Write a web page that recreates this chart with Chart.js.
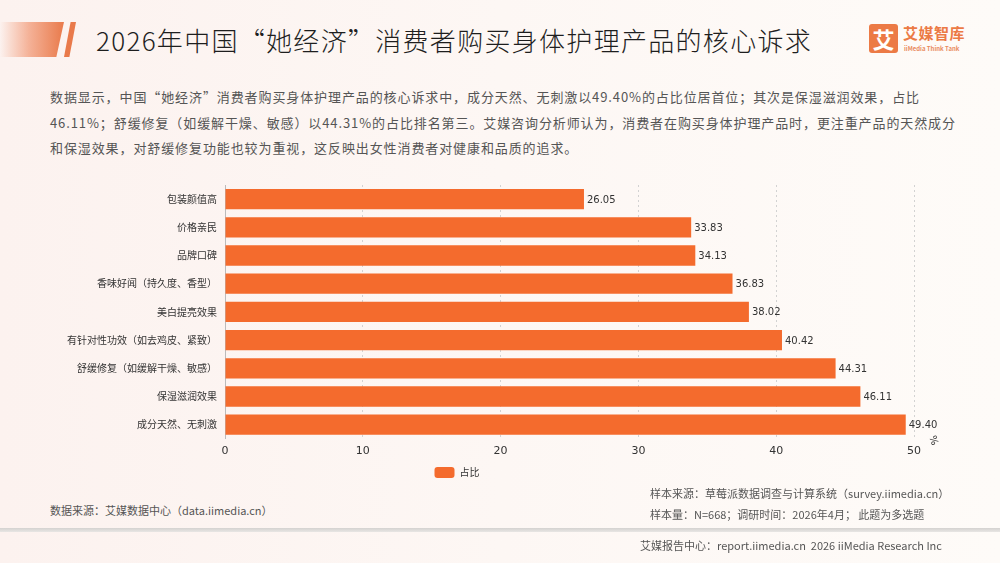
<!DOCTYPE html>
<html>
<head>
<meta charset="utf-8">
<script src="https://cdn.jsdelivr.net/npm/chart.js@4/dist/chart.umd.min.js"></script>
<style>
  html, body { margin: 0; padding: 0; }
  body {
    width: 1000px; height: 563px; overflow: hidden; position: relative;
    background: linear-gradient(90deg, #fcf2ef 0%, #fdf7f4 50%, #fefbf8 100%);
    font-family: "Noto Sans CJK SC", "Noto Sans", sans-serif;
  }
  .deco { position: absolute; left: 0; top: 22px; width: 64px; height: 35px;
    background: linear-gradient(90deg, rgba(238,125,80,0) 0%, rgba(238,125,80,0.55) 45%, #e97a4b 100%);
    clip-path: polygon(0 0, 100% 0, 88% 100%, 0 100%); }
  .deco2 { position: absolute; left: 64px; top: 22px; width: 12px; height: 35px; background: #e97a4b;
    clip-path: polygon(55% 0, 100% 0, 45% 100%, 0 100%); }
  .title { position: absolute; left: 96px; top: 21px; font-size: 26px; color: #1e1e1e; font-weight: 300; letter-spacing: 1.3px; white-space: nowrap; }
  .logo-box { position: absolute; left: 869px; top: 24px; width: 29px; height: 29px; background: #ec7a45; border-radius: 3px;
    color: #fff; font-size: 22px; font-weight: 700; line-height: 29px; text-align: center; }
  .logo-cn { position: absolute; left: 903px; top: 22px; font-size: 15px; font-weight: 700; color: #ec7a45; letter-spacing: 0.5px; }
  .logo-en { position: absolute; left: 904px; top: 44px; font-size: 6px; font-weight: 700; color: #e98a5e; white-space: nowrap; }
  .para { position: absolute; left: 50px; top: 84px; font-size: 13px; color: #555; line-height: 25.5px; letter-spacing: 0.9px; white-space: nowrap; }
  #wrap { position: absolute; left: 0; top: 171px; width: 1000px; height: 317px; }
  .src { position: absolute; font-size: 11px; color: #555; white-space: nowrap; }
  .bar { position: absolute; left: 0; top: 528px; width: 1000px; height: 4px;
    background: linear-gradient(180deg, #d4d2d0, #e8e6e4); }
</style>
</head>
<body>
<div class="deco"></div><div class="deco2"></div>
<div class="title">2026年中国“她经济”消费者购买身体护理产品的核心诉求</div>
<div class="logo-box">艾</div>
<div class="logo-cn">艾媒智库</div>
<div class="logo-en">iiMedia Think Tank</div>
<div class="para">数据显示，中国“她经济”消费者购买身体护理产品的核心诉求中，成分天然、无刺激以49.40%的占比位居首位；其次是保湿滋润效果，占比<br>46.11%；舒缓修复（如缓解干燥、敏感）以44.31%的占比排名第三。艾媒咨询分析师认为，消费者在购买身体护理产品时，更注重产品的天然成分<br>和保湿效果，对舒缓修复功能也较为重视，这反映出女性消费者对健康和品质的追求。</div>
<div id="wrap"><canvas id="chart" width="1000" height="317"></canvas></div>
<div class="src" style="left:50px; top:502px;">数据来源：艾媒数据中心（data.iimedia.cn）</div>
<div class="src" style="left:650px; top:485px;">样本来源：草莓派数据调查与计算系统（survey.iimedia.cn）</div>
<div class="src" style="left:650px; top:506px;">样本量：N=668；调研时间：2026年4月； 此题为多选题</div>
<div class="bar"></div>
<div class="src" style="left:640px; top:537px;">艾媒报告中心：report.iimedia.cn&nbsp;&nbsp;2026 iiMedia Research Inc</div>
<script>
const categories = ['包装颜值高', '价格亲民', '品牌口碑', '香味好闻（持久度、香型）', '美白提亮效果',
    '有针对性功效（如去鸡皮、紧致）', '舒缓修复（如缓解干燥、敏感）', '保湿滋润效果', '成分天然、无刺激'];
const shares = [26.05, 33.83, 34.13, 36.83, 38.02, 40.42, 44.31, 46.11, 49.40];
const xTicks = [0, 10, 20, 30, 40, 50];
const seriesName = '占比';
const barColor = '#f46b2d';

// value labels at the end of each bar + unit mark
const valueLabels = {
    id: 'valueLabels',
    afterDatasetsDraw(chart) {
        const ctx = chart.ctx;
        const meta = chart.getDatasetMeta(0);
        ctx.save();
        ctx.font = '10px "DejaVu Sans", sans-serif';
        ctx.fillStyle = '#333';
        ctx.textBaseline = 'middle';
        meta.data.forEach((bar, i) => {
            ctx.fillText(shares[i].toFixed(2), bar.x + 3, bar.y + 1);
        });
        const xs = chart.scales.x;
        ctx.translate(xs.right + 19, xs.top + 1);
        ctx.rotate(Math.PI / 2 - 0.3);
        ctx.fillText('%', -4, 0);
        ctx.restore();
    }
};

new Chart(document.getElementById('chart'), {
    type: 'bar',
    data: {
        labels: categories,
        datasets: [{
            label: seriesName,
            data: shares,
            backgroundColor: barColor,
            borderWidth: 0,
            categoryPercentage: 0.72,
            barPercentage: 1
        }]
    },
    options: {
        indexAxis: 'y',
        responsive: false,
        animation: false,
        layout: { padding: { top: 0, right: 86, left: 0, bottom: 0 } },
        scales: {
            x: {
                min: 0, max: 50,
                afterBuildTicks: s => { s.ticks = xTicks.map(v => ({ value: v })); },
                grid: { color: '#d2d2d2', lineWidth: 1, drawTicks: false },
                border: { display: false, dash: [2, 3] },
                ticks: { color: '#333', padding: 6, font: { size: 11, family: '"DejaVu Sans", sans-serif' } }
            },
            y: {
                grid: { display: false, drawTicks: false },
                border: { display: true, color: '#bbb' },
                ticks: { color: '#333', padding: 8, font: { size: 10, family: '"Noto Sans CJK SC", sans-serif' } },
                afterFit: s => { s.width = 225; }
            }
        },
        plugins: {
            legend: {
                position: 'bottom',
                labels: {
                    boxWidth: 20, boxHeight: 11, useBorderRadius: true, borderRadius: 3,
                    color: '#333', font: { size: 10, family: '"Noto Sans CJK SC", sans-serif' }, padding: 3
                }
            },
            tooltip: { enabled: false }
        }
    },
    plugins: [valueLabels]
});
</script>
</body>
</html>
